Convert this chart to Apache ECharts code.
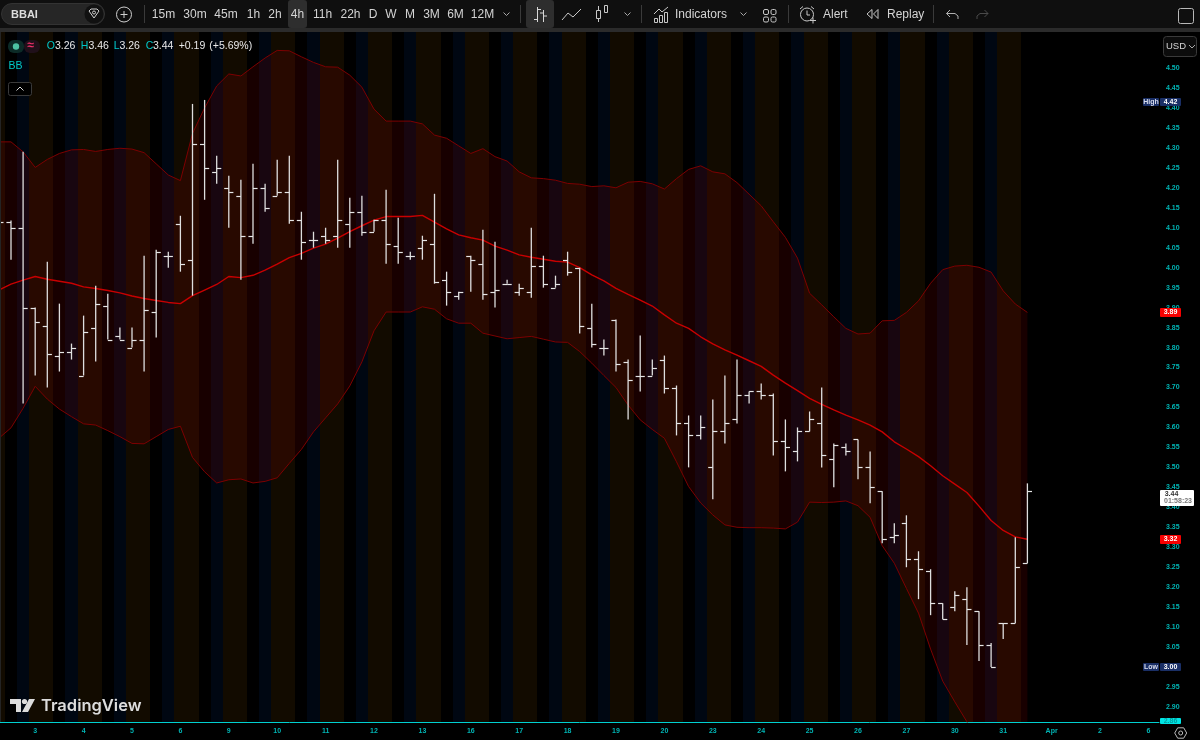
<!DOCTYPE html>
<html>
<head>
<meta charset="utf-8">
<title>BBAI 4h</title>
<style>
  html, body { margin: 0; padding: 0; background: #000; }
  #chart-container { width: 1200px; height: 740px; }
</style>
<script src="https://cdn.jsdelivr.net/npm/echarts@6/dist/echarts.min.js"></script>
</head>
<body>
<div id="chart-container"></div>
<script>
// bars start one slot left of the screen edge, 4 bars per trading day
const firstBar = -1;

const opens = [
  4.10, 4.115, 4.10, 3.90, 3.855, 3.78, 3.79, 3.73, 3.85, 3.905,
  3.83, 3.80, 3.82, 3.89, 4.03, 4.11, 4.02, 4.31, 4.24, 4.20,
  4.18, 4.08, 4.20, 4.18, 4.19, 4.12, 4.07, 4.08, 4.08, 4.11,
  4.14, 4.09, 4.12, 4.055, 4.03, 4.05, 4.06, 3.97, 3.93, 4.03,
  4.01, 3.94, 3.96, 3.94, 3.94, 4.005, 3.95, 4.02, 4.00, 3.85,
  3.80, 3.87, 3.765, 3.73, 3.73, 3.77, 3.70, 3.61, 3.58, 3.50,
  3.59, 3.62, 3.68, 3.69, 3.68, 3.565, 3.54, 3.59, 3.61, 3.52,
  3.55, 3.57, 3.50, 3.44, 3.325, 3.36, 3.27, 3.24, 3.16, 3.15,
  3.17, 3.14, 3.055, 3.11, 3.11, 3.26
];
const highs = [
  4.13, 4.118, 4.29, 3.90, 4.015, 3.91, 3.81, 3.88, 3.955, 3.935,
  3.85, 3.85, 4.03, 4.045, 4.04, 4.13, 4.41, 4.42, 4.28, 4.23,
  4.22, 4.26, 4.21, 4.27, 4.28, 4.14, 4.09, 4.10, 4.27, 4.175,
  4.18, 4.12, 4.195, 4.125, 4.04, 4.08, 4.185, 3.99, 3.94, 4.03,
  4.095, 4.065, 3.97, 3.96, 4.10, 4.03, 3.98, 4.04, 4.00, 3.91,
  3.82, 3.87, 3.77, 3.83, 3.77, 3.78, 3.705, 3.63, 3.63, 3.67,
  3.73, 3.77, 3.69, 3.71, 3.685, 3.62, 3.60, 3.64, 3.70, 3.56,
  3.56, 3.57, 3.54, 3.44, 3.36, 3.38, 3.29, 3.245, 3.16, 3.19,
  3.20, 3.14, 3.06, 3.11, 3.325, 3.46
];
const lows = [
  4.09, 4.02, 3.66, 3.73, 3.70, 3.74, 3.77, 3.73, 3.765, 3.82,
  3.82, 3.80, 3.74, 3.825, 4.00, 3.99, 3.93, 4.17, 4.21, 4.10,
  3.97, 4.06, 4.14, 4.18, 4.11, 4.02, 4.05, 4.06, 4.05, 4.05,
  4.08, 4.09, 4.01, 4.01, 4.02, 4.02, 3.96, 3.905, 3.92, 3.94,
  3.92, 3.90, 3.96, 3.93, 3.925, 3.95, 3.95, 3.98, 3.835, 3.80,
  3.78, 3.74, 3.62, 3.69, 3.73, 3.685, 3.58, 3.50, 3.57, 3.42,
  3.56, 3.61, 3.66, 3.67, 3.53, 3.49, 3.515, 3.59, 3.50, 3.45,
  3.53, 3.47, 3.41, 3.31, 3.31, 3.25, 3.17, 3.13, 3.12, 3.14,
  3.055, 3.015, 3.00, 3.07, 3.11, 3.26
];
const closes = [
  4.115, 4.10, 3.90, 3.865, 3.785, 3.79, 3.80, 3.84, 3.91, 3.82,
  3.82, 3.82, 3.893, 4.04, 4.03, 4.01, 4.31, 4.25, 4.25, 4.19,
  4.08, 4.20, 4.15, 4.19, 4.12, 4.065, 4.07, 4.07, 4.12, 4.14,
  4.09, 4.12, 4.06, 4.04, 4.03, 4.07, 3.965, 3.94, 3.94, 4.02,
  3.935, 3.945, 3.96, 3.95, 4.005, 3.96, 3.96, 3.99, 3.855, 3.81,
  3.80, 3.76, 3.72, 3.73, 3.75, 3.70, 3.61, 3.58, 3.60, 3.59,
  3.61, 3.68, 3.69, 3.68, 3.565, 3.55, 3.59, 3.62, 3.53, 3.555,
  3.54, 3.50, 3.45, 3.32, 3.33, 3.27, 3.245, 3.16, 3.12, 3.18,
  3.145, 3.055, 3.00, 3.11, 3.25, 3.44
];

const bbUpper = [
  4.315, 4.315, 4.29, 4.251, 4.271, 4.286, 4.295, 4.296, 4.291, 4.296,
  4.299, 4.297, 4.288, 4.26, 4.232, 4.218, 4.336, 4.40, 4.455, 4.485,
  4.48, 4.503, 4.525, 4.544, 4.543, 4.528, 4.514, 4.503, 4.502, 4.482,
  4.452, 4.397, 4.367, 4.367, 4.367, 4.36, 4.332, 4.324, 4.305, 4.286,
  4.298, 4.278, 4.267, 4.24, 4.225, 4.223, 4.219, 4.211, 4.209, 4.203,
  4.205, 4.20, 4.214, 4.216, 4.21, 4.197, 4.223, 4.246, 4.255, 4.24,
  4.235, 4.213, 4.184, 4.155, 4.115, 4.076, 4.024, 3.936, 3.907, 3.877,
  3.848, 3.834, 3.836, 3.867, 3.868, 3.888, 3.917, 3.961, 3.995, 4.004,
  4.006, 4.001, 3.989, 3.942, 3.909, 3.888
];
const bbBasis = [
  3.944, 3.959, 3.969, 3.978, 3.971, 3.966, 3.961, 3.952, 3.948, 3.943,
  3.937, 3.929, 3.923, 3.918, 3.913, 3.91, 3.93, 3.944, 3.958, 3.978,
  3.975, 3.981, 3.994, 4.009, 4.025, 4.036, 4.049, 4.059, 4.074, 4.09,
  4.105, 4.119, 4.128, 4.128, 4.128, 4.131, 4.114, 4.097, 4.082, 4.075,
  4.069, 4.054, 4.044, 4.032, 4.026, 4.021, 4.016, 4.014, 4.00, 3.982,
  3.967, 3.948, 3.933, 3.919, 3.904, 3.882, 3.861, 3.848, 3.827, 3.809,
  3.794, 3.781, 3.767, 3.753, 3.731, 3.711, 3.692, 3.673, 3.658, 3.644,
  3.631, 3.619, 3.606, 3.589, 3.564, 3.546, 3.527, 3.504, 3.479, 3.458,
  3.437, 3.403, 3.367, 3.342, 3.326, 3.32
];
const bbLower = [
  3.573, 3.599, 3.648, 3.703, 3.671, 3.646, 3.627, 3.609, 3.606, 3.592,
  3.577, 3.56, 3.559, 3.577, 3.595, 3.603, 3.525, 3.489, 3.461, 3.469,
  3.471, 3.461, 3.465, 3.474, 3.51, 3.545, 3.589, 3.624, 3.659, 3.704,
  3.764, 3.842, 3.889, 3.889, 3.889, 3.902, 3.896, 3.872, 3.861, 3.861,
  3.836, 3.829, 3.822, 3.825, 3.828, 3.821, 3.814, 3.813, 3.79, 3.761,
  3.73, 3.70, 3.656, 3.619, 3.595, 3.573, 3.514, 3.452, 3.411, 3.381,
  3.356, 3.35, 3.349, 3.349, 3.348, 3.346, 3.363, 3.413, 3.412, 3.413,
  3.416, 3.404, 3.375, 3.304, 3.26, 3.197, 3.135, 3.045, 2.965, 2.913,
  2.863, 2.805, 2.745, 2.74, 2.742, 2.752
];

// session per bar of a day, repeats through the bars
const sessionCycle = ['post', 'pre', 'regular', 'regular'];

const dayTickBars = [2, 6, 10, 14, 18, 22, 26, 30, 34, 38, 42, 46, 50, 54, 58, 62, 66, 70, 74, 78, 82, 86, 90, 94];
const dayTickLabels = ['3', '4', '5', '6', '9', '10', '11', '12', '13', '16', '17', '18', '19', '20', '23', '24', '25', '26', '27', '30', '31', 'Apr', '2', '6'];

const priceTicks = [
  2.90, 2.95, 3.00, 3.05, 3.10, 3.15, 3.20, 3.25, 3.30, 3.35, 3.40,
  3.45, 3.50, 3.55, 3.60, 3.65, 3.70, 3.75, 3.80, 3.85, 3.90, 3.95,
  4.00, 4.05, 4.10, 4.15, 4.20, 4.25, 4.30, 4.35, 4.40, 4.45, 4.50
];

const highLowPrices = [4.414, 3.00];
const highLowNames = ['High', 'Low'];
const highLowValues = ['4.42', '3.00'];
const bandTagPrices = [3.888, 3.32];
const lastPrice = 3.44;
const lastPriceCountdown = '01:58:23';
const axisMinPrice = 2.8625;

const timeframes = ['15m', '30m', '45m', '1h', '2h', '4h', '11h', '22h', 'D', 'W', 'M', '3M', '6M', '12M'];
const timeframeX = [163.5, 195, 226, 253.5, 275, 297.5, 322.5, 350.5, 373, 391, 410, 431.5, 455.5, 482.5];

const TOOL_TEXT = '#d4d4d4';
const CYAN = '#00c8c8';
const AXIS_CYAN = '#00b4b4';
const FONT = '"Liberation Sans", Arial, sans-serif';
const sessionColors = { pre: '#000712', regular: '#120b00', post: '#000000' };

const barSlots = opens.map(function (o, k) { return k + firstBar; });

function renderStripe(params, api) {
    const i = api.value(0);
    const sys = params.coordSys;
    const x0 = Math.round(api.coord([i - 0.5, 3])[0]);
    const x1 = Math.round(api.coord([i + 0.5, 3])[0]);
    const name = sessionCycle[((i % 4) + 4) % 4];
    return {
        type: 'rect',
        shape: { x: x0, y: sys.y, width: x1 - x0, height: sys.height },
        style: { fill: sessionColors[name] },
        silent: true
    };
}

function renderBandFill(params, api) {
    const pts = [];
    bbUpper.forEach(function (v, k) { pts.push(api.coord([barSlots[k], v])); });
    for (let k = bbLower.length - 1; k >= 0; k--) { pts.push(api.coord([barSlots[k], bbLower[k]])); }
    return { type: 'polygon', shape: { points: pts }, style: { fill: 'rgba(255,0,0,0.095)' }, silent: true };
}

function renderOhlc(params, api) {
    const i = api.value(0);
    const x = api.coord([i, 3])[0];
    const yO = Math.round(api.coord([i, api.value(1)])[1]) + 0.5;
    const yH = api.coord([i, api.value(2)])[1];
    const yL = api.coord([i, api.value(3)])[1];
    const yC = Math.round(api.coord([i, api.value(4)])[1]) + 0.5;
    const wick = { stroke: '#dedede', lineWidth: 1.3, fill: null };
    const tick = { stroke: '#e6e6e6', lineWidth: 1.2, fill: null };
    return {
        type: 'group',
        children: [
            { type: 'line', shape: { x1: x, y1: yH, x2: x, y2: yL }, style: wick },
            { type: 'line', shape: { x1: x - 4.6, y1: yO, x2: x, y2: yO }, style: tick },
            { type: 'line', shape: { x1: x, y1: yC, x2: x + 4.6, y2: yC }, style: tick }
        ]
    };
}

function tagRect(x, y, w, h, fill) {
    return { type: 'rect', shape: { x: x, y: y, width: w, height: h, r: 1 }, style: { fill: fill } };
}
function tagText(x, y, text, fill, size) {
    return {
        type: 'text',
        style: {
            text: text, x: x, y: y, fill: fill, align: 'center', verticalAlign: 'middle',
            font: 'bold ' + (size || 7) + 'px ' + FONT
        }
    };
}

// tags on the price scale, y comes from the axis
function renderHighLow(params, api) {
    const k = params.dataIndex;
    const y = Math.round(api.coord([0, api.value(0)])[1]);
    return {
        type: 'group',
        children: [
            tagRect(1143, y - 4, 16, 8, '#1a2f66'),
            tagRect(1160, y - 4, 21, 8, '#1a2f66'),
            tagText(1151, y, highLowNames[k], '#d8dcec'),
            tagText(1170.5, y, highLowValues[k], '#ffffff')
        ]
    };
}
function renderBandTag(params, api) {
    const v = api.value(0);
    const y = Math.round(api.coord([0, v])[1]);
    return {
        type: 'group',
        children: [tagRect(1160, y - 4, 21, 9, '#f70000'), tagText(1170.5, y + 0.5, v.toFixed(2), '#ffffff')]
    };
}
function renderLastTag(params, api) {
    const y = Math.round(api.coord([0, api.value(0)])[1]);
    return {
        type: 'group',
        children: [
            tagRect(1160, y - 1, 34, 16, '#ffffff'),
            tagText(1171.5, y + 3, lastPrice.toFixed(2), '#333333'),
            tagText(1178, y + 10, lastPriceCountdown, '#777777')
        ]
    };
}
function renderMinTag(params, api) {
    const y = Math.round(api.coord([0, api.value(0)])[1]);
    return {
        type: 'group',
        children: [tagRect(1160, y - 4, 21, 6, '#00e5e5'), tagText(1170.5, y - 1, api.value(0).toFixed(2), '#00a0a0')]
    };
}

// toolbar, legend and logo, all plain graphic elements
const graphics = [];
function text(x, y, str, fill, size, extra) {
    const el = {
        type: 'text', silent: true, z: 20,
        style: {
            text: str, x: x, y: y, fill: fill, align: 'left', verticalAlign: 'middle',
            font: (size || 12) + 'px ' + FONT
        }
    };
    if (extra) Object.assign(el.style, extra);
    graphics.push(el);
    return el;
}
function box(x, y, w, h, fill, r, stroke) {
    graphics.push({
        type: 'rect', silent: true, z: 20,
        shape: { x: x, y: y, width: w, height: h, r: r || 0 },
        style: { fill: fill || 'transparent', stroke: stroke || null, lineWidth: 1 }
    });
}
function poly(points, stroke, width) {
    graphics.push({
        type: 'polyline', silent: true, z: 20, shape: { points: points },
        style: { stroke: stroke || TOOL_TEXT, lineWidth: width || 1, fill: null }
    });
}
function ring(cx, cy, r, fill, stroke, width) {
    graphics.push({
        type: 'circle', silent: true, z: 20, shape: { cx: cx, cy: cy, r: r },
        style: { fill: fill || 'transparent', stroke: stroke || null, lineWidth: width || 1 }
    });
}
function sep(x) { poly([[x + 0.5, 5], [x + 0.5, 23]], '#3a3a3a'); }
function chevron(x, y) { poly([[x - 3, y - 1.5], [x, y + 1.5], [x + 3, y - 1.5]], '#a8a8a8'); }

// toolbar background
box(0, 0, 1200, 28, '#0f0f0f');
box(0, 28, 1200, 4, '#2b2b2b');
box(0, 32, 1, 690, '#242424');

box(1.5, 3.5, 103, 21, '#262626', 10.5, '#333333');
text(11, 14.5, 'BBAI', '#dddddd', 11, { font: 'bold 11px ' + FONT });
ring(94, 14, 9.5, '#111111');
poly([[89, 11], [91, 9], [97, 9], [99, 11], [94, 18], [89, 11]], '#cfcfcf');
ring(94, 12.5, 1.5, null, '#cfcfcf');
ring(124, 14.5, 7.5, null, '#cfcfcf');
poly([[120.5, 14.5], [127.5, 14.5]], '#cfcfcf');
poly([[124, 11], [124, 18]], '#cfcfcf');
sep(144);

box(288, 0, 19, 28, '#2e2e2e', 3);
timeframes.forEach(function (label, k) {
    text(timeframeX[k], 14.5, label, TOOL_TEXT, 12, { align: 'center' });
});
chevron(506.5, 14);
sep(520);

// bar / line / candle style buttons
box(526, 0, 28, 28, '#2e2e2e', 3);
poly([[537.5, 7], [537.5, 22]], '#d8d8d8');
poly([[534, 19.5], [537.5, 19.5]], '#d8d8d8');
poly([[537.5, 9.5], [541, 9.5]], '#d8d8d8');
poly([[543.5, 10], [543.5, 22]], '#d8d8d8');
poly([[540, 13], [543.5, 13]], '#d8d8d8');
poly([[543.5, 16], [547, 16]], '#d8d8d8');
poly([[562, 20], [568, 13], [573, 17], [581, 9]], '#c8c8c8');
box(596.5, 10.5, 4, 8, null, 0, '#c8c8c8');
poly([[598.5, 6], [598.5, 10]], '#c8c8c8');
poly([[598.5, 19], [598.5, 22]], '#c8c8c8');
box(604.5, 5.5, 3, 7, null, 0, '#c8c8c8');
chevron(627.5, 14);
sep(641);

// indicators
poly([[654, 14], [659, 9], [662, 12], [668, 7]], '#c8c8c8');
box(654.5, 18.5, 3, 4, null, 0, '#c8c8c8');
box(659.5, 15.5, 3, 7, null, 0, '#c8c8c8');
box(664.5, 12.5, 3, 10, null, 0, '#c8c8c8');
text(675, 14.5, 'Indicators', TOOL_TEXT, 12);
chevron(743.5, 14);
[[763, 9], [770.5, 9], [763, 16.5], [770.5, 16.5]].forEach(function (p) { box(p[0] + 0.5, p[1] + 0.5, 5, 5, null, 1.5, '#c8c8c8'); });
sep(788);

// alert
ring(807, 14.5, 6.5, null, '#c8c8c8');
poly([[807, 10.5], [807, 15], [810, 15]], '#c8c8c8');
poly([[800, 9], [803, 6.5]], '#c8c8c8');
poly([[811, 6.5], [814, 9]], '#c8c8c8');
poly([[810, 20.5], [816, 20.5]], '#c8c8c8');
poly([[813, 17.5], [813, 23.5]], '#c8c8c8');
text(823, 14.5, 'Alert', TOOL_TEXT, 12);

// replay
poly([[872, 9.5], [867, 14], [872, 18.5], [872, 9.5]], '#c8c8c8');
poly([[878, 9.5], [873.5, 14], [878, 18.5], [878, 9.5]], '#c8c8c8');
text(887, 14.5, 'Replay', TOOL_TEXT, 12);
sep(933);

// undo / redo
poly([[950, 10], [946.5, 13.5], [950, 17]], '#b0b0b0');
poly([[946.5, 13.5], [955, 13.5], [958, 16], [958, 19]], '#b0b0b0');
poly([[984.5, 10], [988, 13.5], [984.5, 17]], '#4a4a4a');
poly([[988, 13.5], [980, 13.5], [977, 16], [977, 19]], '#4a4a4a');

box(1178.5, 8.5, 15, 15, null, 2, '#b8b8b8');

// USD button
box(1163.5, 36.5, 33, 20, '#0c0c0c', 3, '#3a3a3a');
text(1166, 46.5, 'USD', TOOL_TEXT, 9.5);
chevron(1192, 46.5);

// legend
box(8, 40, 16, 13, '#0c2b27', 6);
ring(16, 46.5, 3.2, '#4cc2a2');
box(24, 40, 16, 13, '#20101a', 6);
text(27.5, 46, '≈', '#f0306a', 12, { font: 'bold 12px ' + FONT });
const legendParts = [
    [46.7, 'O', CYAN], [55, '3.26', '#e8e8e8'],
    [80.7, 'H', CYAN], [88.5, '3.46', '#e8e8e8'],
    [113.7, 'L', CYAN], [119.5, '3.26', '#e8e8e8'],
    [145.8, 'C', CYAN], [153, '3.44', '#e8e8e8'],
    [178.7, '+0.19', '#e8e8e8'], [209.3, '(+5.69%)', '#e8e8e8']
];
legendParts.forEach(function (p) { text(p[0], 46.5, p[1], p[2], 10.5); });
text(8.5, 66, 'BB', CYAN, 10.5);
box(8.5, 82.5, 23, 13, '#000000', 2, '#3a3a3a');
poly([[16.5, 90.5], [20, 87], [23.5, 90.5]], '#d8d8d8');

// TradingView mark
graphics.push({ type: 'polygon', silent: true, z: 20, shape: { points: [[10, 699], [21, 699], [21, 712], [16, 712], [16, 704], [10, 704]] }, style: { fill: '#dcdcdc' } });
ring(24.5, 701.5, 2.6, '#dcdcdc');
graphics.push({ type: 'polygon', silent: true, z: 20, shape: { points: [[29, 699], [35, 699], [28, 712], [22, 712]] }, style: { fill: '#dcdcdc' } });
text(41, 706, 'TradingView', '#dcdcdc', 16.5, { font: '600 16.5px Inter, ' + FONT });

// gear in the corner
poly([[1186.7, 733], [1183.7, 738.2], [1177.7, 738.2], [1174.7, 733], [1177.7, 727.8], [1183.7, 727.8], [1186.7, 733]], '#b8b8b8');
ring(1180.7, 733, 2, null, '#b8b8b8');

const dom = document.getElementById('chart-container');
const myChart = echarts.init(dom, null, { renderer: 'canvas', useDirtyRect: false });

const option = {
    animation: false,
    backgroundColor: '#000000',
    grid: { left: 0, top: 32, width: 1159, height: 690, containLabel: false },
    xAxis: {
        type: 'value',
        min: -0.909,
        max: 94.876,
        axisLine: { show: true, onZero: false, lineStyle: { color: '#00d0d0', width: 1 } },
        axisTick: { show: false },
        splitLine: { show: false },
        axisLabel: {
            customValues: dayTickBars,
            color: AXIS_CYAN,
            fontFamily: FONT,
            fontWeight: 'bold',
            fontSize: 7,
            margin: 6,
            formatter: function (v) { return dayTickLabels[dayTickBars.indexOf(v)]; }
        }
    },
    yAxis: {
        type: 'value',
        position: 'right',
        min: axisMinPrice,
        max: 4.5901,
        axisLine: { show: false },
        axisTick: { show: false },
        splitLine: { show: false },
        axisLabel: {
            customValues: priceTicks,
            color: AXIS_CYAN,
            fontFamily: FONT,
            fontWeight: 'bold',
            fontSize: 7,
            margin: 7,
            formatter: function (v) { return v.toFixed(2); }
        }
    },
    graphic: { elements: graphics },
    series: [
        { type: 'custom', name: 'sessions', z: 1, silent: true, clip: true, renderItem: renderStripe, data: barSlots.map(function (i) { return [i]; }) },
        { type: 'custom', name: 'BB fill', z: 2, silent: true, clip: true, renderItem: renderBandFill, data: [[0]] },
        { type: 'line', name: 'BB upper', z: 3, silent: true, showSymbol: false, lineStyle: { color: '#7d0000', width: 1 }, data: bbUpper.map(function (v, k) { return [barSlots[k], v]; }) },
        { type: 'line', name: 'BB lower', z: 3, silent: true, showSymbol: false, lineStyle: { color: '#7d0000', width: 1 }, data: bbLower.map(function (v, k) { return [barSlots[k], v]; }) },
        { type: 'line', name: 'BB basis', z: 3, silent: true, showSymbol: false, lineStyle: { color: '#c80000', width: 1.4 }, data: bbBasis.map(function (v, k) { return [barSlots[k], v]; }) },
        { type: 'custom', name: 'BBAI', z: 4, silent: true, clip: true, renderItem: renderOhlc, data: barSlots.map(function (i, k) { return [i, opens[k], highs[k], lows[k], closes[k]]; }) },
        { type: 'custom', name: 'High Low', z: 6, silent: true, clip: false, renderItem: renderHighLow, encode: { y: 0 }, data: highLowPrices.map(function (p) { return [p]; }) },
        { type: 'custom', name: 'BB tags', z: 6, silent: true, clip: false, renderItem: renderBandTag, encode: { y: 0 }, data: bandTagPrices.map(function (p) { return [p]; }) },
        { type: 'custom', name: 'Last', z: 6, silent: true, clip: false, renderItem: renderLastTag, encode: { y: 0 }, data: [[lastPrice]] },
        { type: 'custom', name: 'Axis min', z: 6, silent: true, clip: false, renderItem: renderMinTag, encode: { y: 0 }, data: [[axisMinPrice]] }
    ]
};

myChart.setOption(option, true);
</script>
</body>
</html>
